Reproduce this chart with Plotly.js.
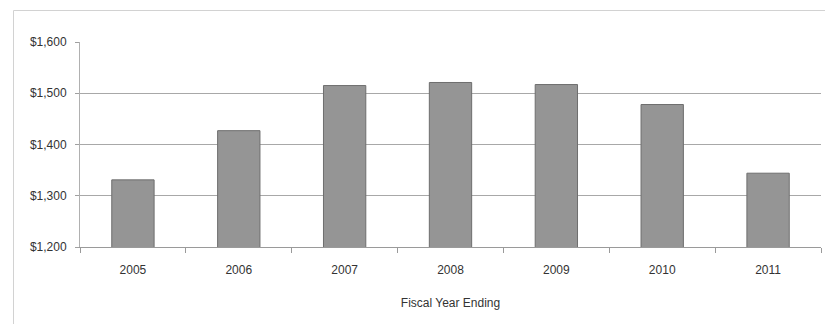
<!DOCTYPE html>
<html>
<head>
<meta charset="utf-8">
<script src="https://cdn.plot.ly/plotly-3.0.1.min.js"></script>
<style>
  html, body { margin: 0; padding: 0; background: #ffffff; }
  #chart { width: 825px; height: 324px; }
</style>
</head>
<body>
<div id="chart"></div>
<script>
// Fiscal years and the corresponding dollar amounts
const fiscalYears = ['2005', '2006', '2007', '2008', '2009', '2010', '2011'];
const amounts = [1331, 1427, 1515, 1521, 1517, 1478, 1344];
const yTicks = [1200, 1300, 1400, 1500, 1600];

const font = { family: 'Liberation Sans, Arial, sans-serif', size: 12, color: '#333333' };

const trace = {
  type: 'bar',
  x: fiscalYears,
  y: amounts,
  width: 0.4,
  marker: { color: '#959595', line: { color: '#6e6e6e', width: 1 } },
  hoverinfo: 'x+y'
};

// plot area spans 80..821 px horizontally, 42..247 px vertically
const L = 80, R = 4, T = 42, B = 77, W = 825, H = 324;
const pw = W - L - R, ph = H - T - B;
const px = v => (v - L) / pw;
const py = v => (H - B - v) / ph;

const layout = {
  width: W,
  height: H,
  margin: { l: L, r: R, t: T, b: B, pad: 0 },
  paper_bgcolor: '#ffffff',
  plot_bgcolor: '#ffffff',
  font: font,
  showlegend: false,
  xaxis: {
    type: 'category',
    tickson: 'boundaries',
    ticks: 'outside',
    ticklen: 5,
    tickcolor: '#9a9a9a',
    showline: true,
    linecolor: '#9a9a9a',
    linewidth: 1,
    showgrid: false,
    ticklabelstandoff: 12,
    tickfont: font,
    title: { text: 'Fiscal Year Ending', font: font, standoff: 22 }
  },
  yaxis: {
    range: [1200, 1600],
    tickvals: yTicks,
    tickformat: '$,d',
    ticks: 'outside',
    ticklen: 4,
    tickcolor: '#a0a0a0',
    showline: true,
    linecolor: '#b0b0b0',
    linewidth: 1,
    showgrid: true,
    gridcolor: '#a8a8a8',
    gridwidth: 1,
    zeroline: false,
    ticklabelstandoff: 6,
    tickfont: font
  },
  shapes: [
    // light frame around the whole chart
    {
      type: 'rect', xref: 'paper', yref: 'paper',
      x0: px(13.5), x1: px(830), y0: py(330), y1: py(10.5),
      line: { color: '#d2d2d2', width: 1 },
      fillcolor: 'rgba(0,0,0,0)',
      layer: 'below'
    }
  ]
};

Plotly.newPlot('chart', [trace], layout, { displayModeBar: false, staticPlot: true });
</script>
</body>
</html>
